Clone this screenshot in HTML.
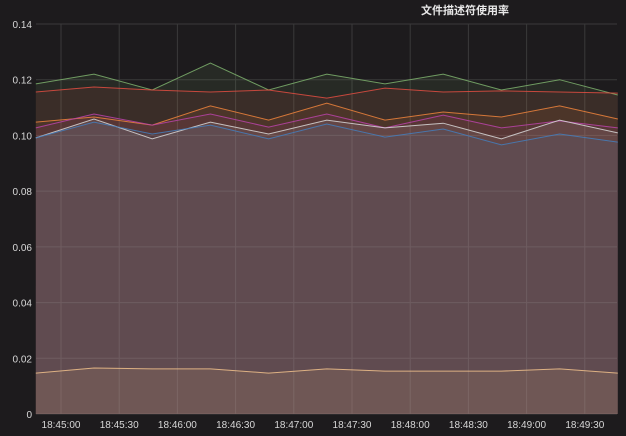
<!DOCTYPE html>
<html><head><meta charset="utf-8"><style>
body{margin:0;background:#1d1b1d;}
svg{display:block;font-family:"Liberation Sans","Noto Sans CJK SC",sans-serif;}
</style></head><body>
<svg id="c" width="626" height="436">
<rect width="626" height="436" fill="#1d1b1d"/>
<text x="465" y="14" fill="#e8e8e8" font-size="11" font-weight="bold" text-anchor="middle">文件描述符使用率</text>
<g id="grid"></g><g id="areas"></g><g id="lines"></g><g id="axes"></g>
</svg>
<script>
const yTicks=[0,0.02,0.04,0.06,0.08,0.10,0.12,0.14];
const yTickLabels=["0","0.02","0.04","0.06","0.08","0.10","0.12","0.14"];
const xTickSeconds=[0,30,60,90,120,150,180,210,240,270];
const xTickLabels=["18:45:00","18:45:30","18:46:00","18:46:30","18:47:00","18:47:30","18:48:00","18:48:30","18:49:00","18:49:30"];
const pointSeconds=[-13,17,47,77,107,137,167,197,227,257,287];
const seriesNames=["green","red","orange","magenta","white","blue","peach"];
const seriesColors=["#7eb26d","#e24d42","#ef843c","#ba43a9","#d8d8d8","#447ebc","#f2c28c"];
const green=[0.1185,0.122,0.1163,0.126,0.1163,0.122,0.1185,0.122,0.1163,0.12,0.1145];
const red=[0.1156,0.1174,0.1163,0.1156,0.1163,0.1134,0.117,0.1156,0.116,0.1156,0.1152];
const orange=[0.1048,0.1066,0.1037,0.1106,0.1055,0.1116,0.1055,0.1084,0.1066,0.1106,0.1059];
const magenta=[0.1027,0.1077,0.1037,0.1077,0.103,0.1077,0.1027,0.1073,0.1027,0.1052,0.1027];
const white=[0.0991,0.1059,0.0988,0.1048,0.1005,0.1055,0.1027,0.1044,0.0988,0.1055,0.1009];
const blue=[0.0991,0.1048,0.1005,0.1037,0.0988,0.1041,0.0994,0.1023,0.0966,0.1005,0.0976];
const peach=[0.0147,0.0165,0.0162,0.0162,0.0147,0.0162,0.0154,0.0154,0.0154,0.0162,0.0147];
const allSeries=[green,red,orange,magenta,white,blue,peach];
const X0=36,X1=617,Y0=414,Y1=24;
function sx(s){return 61+s*(58.2/30);}
function sy(v){return Y0-(v/0.14)*(Y0-Y1);}
const NS="http://www.w3.org/2000/svg";
function mk(t,p,a){const e=document.createElementNS(NS,t);for(const k in a)e.setAttribute(k,a[k]);p.appendChild(e);return e;}
const grid=document.getElementById('grid'),axes=document.getElementById('axes'),areas=document.getElementById('areas'),lines=document.getElementById('lines');
yTicks.forEach((v,i)=>{
 const l=mk('line',grid,{x1:X0,x2:X1,y1:sy(v),y2:sy(v),stroke:'#3a3a3a','stroke-width':1});
 
 
 const t=mk('text',axes,{x:32,y:sy(v)+4,fill:'#d8d8d8','font-size':10,'text-anchor':'end'});
 t.textContent=yTickLabels[i];
 
 
});
xTickSeconds.forEach((s,i)=>{
 const l=mk('line',grid,{x1:sx(s),x2:sx(s),y1:Y1,y2:Y0,stroke:'#3a3a3a','stroke-width':1});
 
 
 const t=mk('text',axes,{x:sx(s),y:428,fill:'#d8d8d8','font-size':10,'text-anchor':'middle'});
 t.textContent=xTickLabels[i];
 
 
});
allSeries.forEach((d,k)=>{
 const pts=d.map((v,i)=>sx(pointSeconds[i]).toFixed(1)+','+sy(v).toFixed(1));
 const a=mk('polygon',areas,{points:sx(pointSeconds[0])+','+Y0+' '+pts.join(' ')+' '+sx(pointSeconds[pointSeconds.length-1])+','+Y0,fill:seriesColors[k],'fill-opacity':0.1});
 
 
 const p=mk('polyline',lines,{points:pts.join(' '),fill:'none',stroke:seriesColors[k],'stroke-width':1,'stroke-opacity':0.85});
 
 
});
</script>
</body></html>
